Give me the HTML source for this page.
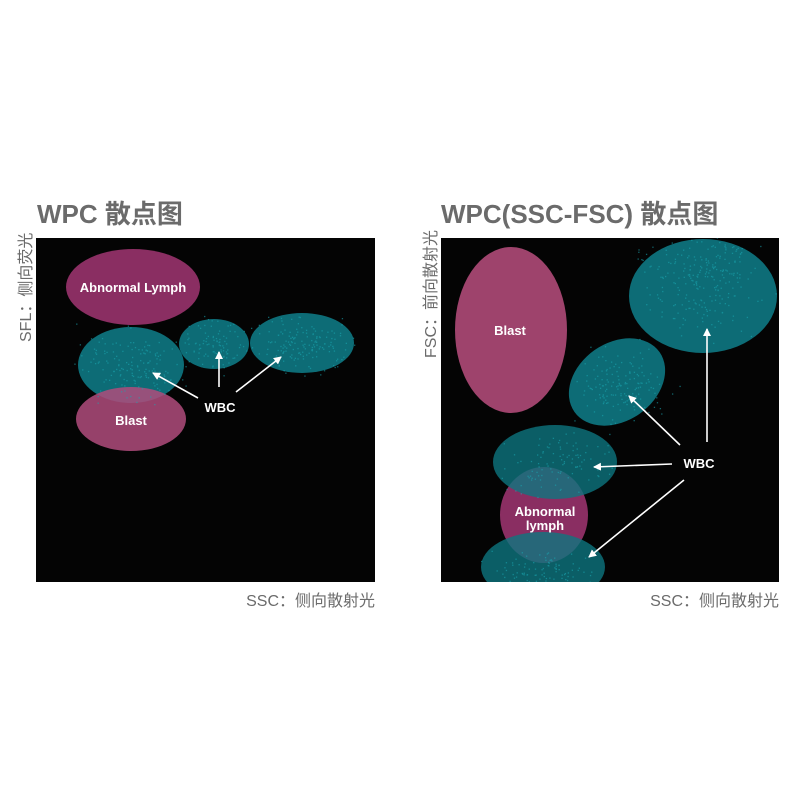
<!DOCTYPE html>
<html><head><meta charset="utf-8"><style>
body{margin:0;background:#fff;width:800px;height:800px;overflow:hidden}
svg{display:block}
</style></head><body>
<svg id="s" width="800" height="800" xmlns="http://www.w3.org/2000/svg" font-family="'Liberation Sans','Noto Sans CJK SC',sans-serif">
<defs>
<marker id="a" markerWidth="8" markerHeight="8" refX="7" refY="4" orient="auto" markerUnits="userSpaceOnUse"><path d="M0,0 L8,4 L0,8 Z" fill="#fff"/></marker>
<clipPath id="c1"><rect x="36" y="238" width="339" height="344"/></clipPath>
<clipPath id="c2"><rect x="441" y="238" width="338" height="344"/></clipPath>
</defs>
<text x="37" y="223" font-size="26" font-weight="bold" fill="#6b6b6b">WPC 散点图</text>
<text x="441" y="223" font-size="26" font-weight="bold" fill="#6b6b6b">WPC(SSC-FSC) 散点图</text>
<rect x="36" y="238" width="339" height="344" fill="#040404"/>
<rect x="441" y="238" width="338" height="344" fill="#040404"/>
<g clip-path="url(#c1)">
<ellipse cx="133" cy="287" rx="67" ry="38" fill="#8a2e62"/>
<ellipse cx="131" cy="365" rx="53" ry="38" fill="#0e7580" opacity="0.92"/>
<ellipse cx="214" cy="344" rx="35" ry="25" fill="#0e7580" opacity="0.92"/>
<ellipse cx="302" cy="343" rx="52" ry="30" fill="#0e7580" opacity="0.92"/>
<ellipse cx="131" cy="419" rx="55" ry="32" fill="#b04c7c" opacity="0.85"/>
</g>
<g clip-path="url(#c2)">
<ellipse cx="511" cy="330" rx="56" ry="83" fill="#9e436c"/>
<ellipse cx="544" cy="515" rx="44" ry="48" fill="#8a2e62"/>
<ellipse cx="703" cy="296" rx="74" ry="57" fill="#0e7580" opacity="0.92"/>
<ellipse cx="617" cy="382" rx="52" ry="39" fill="#0e7580" opacity="0.92" transform="rotate(-35 617 382)"/>
<ellipse cx="555" cy="462" rx="62" ry="37" fill="#0e7580" opacity="0.8"/>
<ellipse cx="543" cy="567" rx="62" ry="35" fill="#0e7580" opacity="0.8"/>
</g>
<g id="d1" clip-path="url(#c1)" opacity="0.6"></g>
<g id="d2" clip-path="url(#c2)" opacity="0.6"></g>
<g fill="#fff" font-weight="bold" text-anchor="middle" font-size="13">
<text x="133" y="292">Abnormal Lymph</text>
<text x="131" y="425">Blast</text>
<text x="220" y="412">WBC</text>
<text x="510" y="335">Blast</text>
<text x="699" y="468">WBC</text>
<text x="545" y="516">Abnormal</text>
<text x="545" y="530">lymph</text>
</g>
<g stroke="#fff" stroke-width="1.6" marker-end="url(#a)">
<line x1="198" y1="398" x2="153" y2="373"/>
<line x1="219" y1="387" x2="219" y2="352"/>
<line x1="236" y1="392" x2="281" y2="357"/>
<line x1="707" y1="442" x2="707" y2="329"/>
<line x1="680" y1="445" x2="629" y2="396"/>
<line x1="672" y1="464" x2="594" y2="467"/>
<line x1="684" y1="480" x2="589" y2="557"/>
</g>
<text transform="translate(31,342) rotate(-90)" font-size="16" fill="#6b6b6b">SFL：侧向荧光</text>
<text transform="translate(436,358) rotate(-90)" font-size="16" fill="#6b6b6b">FSC：前向散射光</text>
<text x="375" y="606" font-size="16" fill="#6b6b6b" text-anchor="end">SSC：侧向散射光</text>
<text x="779" y="606" font-size="16" fill="#6b6b6b" text-anchor="end">SSC：侧向散射光</text>
</svg>
<script>
var ns="http://www.w3.org/2000/svg",seed=7;
function r(){seed=(seed*16807)%2147483647;return seed/2147483647;}
function g(){return (r()+r()+r()-1.5)/1.5;}
function dots(id,cs){var G=document.getElementById(id);cs.forEach(function(c){for(var i=0;i<c[4];i++){var e=document.createElementNS(ns,"rect");e.setAttribute("x",c[0]+g()*c[2]*1.2);e.setAttribute("y",c[1]+g()*c[3]*1.2);e.setAttribute("width",1.3);e.setAttribute("height",1.3);e.setAttribute("fill","#1aa5b0");G.appendChild(e);}});}
dots("d1",[[131,365,55,40,150],[214,344,40,30,100],[302,343,55,32,150]]);
dots("d2",[[703,280,70,60,250],[620,385,55,45,150],[555,462,60,38,100],[543,575,60,30,120]]);
</script>
</body></html>
